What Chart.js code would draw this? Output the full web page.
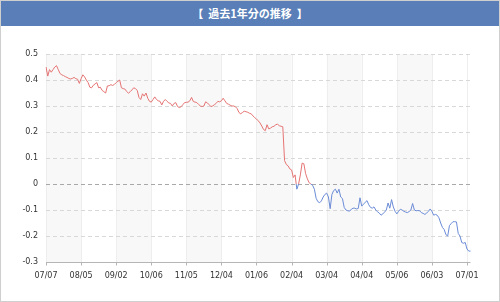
<!DOCTYPE html>
<html><head><meta charset="utf-8">
<script src="https://cdn.jsdelivr.net/npm/chart.js@4.4.1/dist/chart.umd.min.js"></script>
<style>
html,body{margin:0;padding:0;background:#fff;}
#wrap{position:relative;width:500px;height:302px;box-sizing:border-box;border:1px solid #cfcfcf;overflow:hidden;}
#title{position:absolute;left:0;top:0;width:498px;height:25px;background:#5a7fb8;color:#fff;font:bold 11px "Noto Sans CJK JP";text-align:center;line-height:25px;white-space:pre;}
canvas{position:absolute;left:-1px;top:-1px;}
</style></head>
<body><div id="wrap"><div id="title">【  過去1年分の推移  】</div><canvas id="c" width="500" height="302"></canvas></div>
<script>
const tickLabels = ['07/07','08/05','09/02','10/06','11/05','12/04','01/06','02/04','03/04','04/04','05/06','06/03','07/01'];
const yTicks = [0.5,0.4,0.3,0.2,0.1,0,-0.1,-0.2,-0.3];
const values = [
0.45,0.415,0.44,0.43,0.44,0.45,0.455,0.44,0.425,0.42,
0.417,0.413,0.41,0.406,0.404,0.406,0.41,0.405,0.403,0.387,
0.405,0.42,0.412,0.40,0.39,0.372,0.37,0.38,0.385,0.39,
0.37,0.372,0.36,0.355,0.35,0.377,0.378,0.382,0.379,0.383,
0.39,0.395,0.40,0.37,0.367,0.365,0.356,0.349,0.355,0.362,
0.37,0.367,0.36,0.333,0.325,0.347,0.338,0.35,0.33,0.318,
0.315,0.325,0.335,0.325,0.32,0.318,0.304,0.318,0.325,0.318,
0.312,0.31,0.30,0.31,0.313,0.298,0.294,0.297,0.305,0.313,
0.314,0.315,0.32,0.333,0.317,0.315,0.313,0.306,0.30,0.298,
0.30,0.316,0.312,0.305,0.298,0.30,0.305,0.31,0.318,0.316,
0.32,0.33,0.32,0.31,0.307,0.303,0.30,0.30,0.297,0.29,
0.275,0.27,0.275,0.28,0.278,0.276,0.272,0.27,0.262,0.255,
0.25,0.243,0.235,0.223,0.21,0.205,0.228,0.212,0.215,0.22,
0.222,0.228,0.23,0.224,0.222,0.22,0.09,0.075,0.07,0.058,
0.054,0.025,0.035,-0.02,0.0,0.035,0.08,0.078,0.04,0.02,
0.005,0.0,-0.005,-0.02,-0.055,-0.068,-0.072,-0.065,-0.05,-0.04,
-0.035,-0.05,-0.095,-0.04,-0.025,-0.02,-0.035,-0.02,-0.05,-0.056,
-0.09,-0.1,-0.103,-0.104,-0.098,-0.093,-0.093,-0.096,-0.094,-0.053,
-0.085,-0.078,-0.07,-0.064,-0.08,-0.09,-0.093,-0.088,-0.1,-0.107,
-0.112,-0.12,-0.115,-0.108,-0.1,-0.073,-0.093,-0.06,-0.088,-0.105,
-0.115,-0.105,-0.097,-0.1,-0.105,-0.108,-0.11,-0.106,-0.1,-0.075,
-0.1,-0.103,-0.102,-0.103,-0.11,-0.113,-0.117,-0.112,-0.105,-0.096,
-0.105,-0.12,-0.117,-0.12,-0.13,-0.15,-0.167,-0.175,-0.195,-0.2,
-0.16,-0.152,-0.145,-0.145,-0.146,-0.19,-0.2,-0.225,-0.228,-0.225,
-0.25,-0.258,-0.258
];
const categories = values.map((_, i) => String(i));
const RED = '#e57373', BLUE = '#6a8bd6';
const FONT = {family:'DejaVu Sans', size:8};

const bg = {
  id:'bg',
  beforeDatasetsDraw(chart){
    const {ctx, chartArea:a, scales:{x, y}} = chart;
    ctx.save();
    ctx.fillStyle = '#f8f8f8';
    for (let k = 0; k < tickLabels.length - 1; k += 2) {
      const x0 = x.getPixelForValue(k*20), x1 = x.getPixelForValue(k*20+20);
      ctx.fillRect(x0, a.top, x1 - x0, a.bottom - a.top);
    }
    ctx.lineWidth = 1;
    ctx.strokeStyle = '#eeeeee';
    tickLabels.forEach((_, k) => {
      const px = Math.round(x.getPixelForValue(k*20)) + 0.5;
      ctx.beginPath(); ctx.moveTo(px, a.top); ctx.lineTo(px, a.bottom); ctx.stroke();
    });
    ctx.setLineDash([4,3]);
    yTicks.forEach(v => {
      if (v === yTicks[yTicks.length-1]) return;
      const py = Math.round(y.getPixelForValue(v)) + 0.5;
      ctx.strokeStyle = v === 0 ? '#a8a8a8' : '#d8d8d8';
      ctx.beginPath(); ctx.moveTo(a.left, py); ctx.lineTo(a.right, py); ctx.stroke();
    });
    ctx.setLineDash([]);
    const pb = Math.round(y.getPixelForValue(yTicks[yTicks.length-1])) + 0.5;
    ctx.strokeStyle = '#b5b5b5';
    ctx.beginPath(); ctx.moveTo(a.left, pb); ctx.lineTo(a.right, pb); ctx.stroke();
    tickLabels.forEach((_, k) => {
      const px = Math.round(x.getPixelForValue(k*20)) + 0.5;
      ctx.beginPath(); ctx.moveTo(px, pb); ctx.lineTo(px, pb + 3); ctx.stroke();
    });
    ctx.restore();
  }
};

new Chart(document.getElementById('c'), {
  type:'line',
  data:{
    labels: categories,
    datasets:[{
      data: values,
      borderWidth: 1,
      pointRadius: 0,
      tension: 0,
      fill: false,
      borderColor: (ctx) => {
        const chart = ctx.chart, a = chart.chartArea;
        if (!a) return RED;
        const y0 = chart.scales.y.getPixelForValue(0);
        const f = Math.min(1, Math.max(0, (y0 - a.top) / (a.bottom - a.top)));
        const g = chart.ctx.createLinearGradient(0, a.top, 0, a.bottom);
        g.addColorStop(0, RED); g.addColorStop(f, RED);
        g.addColorStop(f, BLUE); g.addColorStop(1, BLUE);
        return g;
      }
    }]
  },
  options:{
    responsive:false, animation:false,
    layout:{padding:{top:54, left:6, right:29.5, bottom:18}},
    plugins:{legend:{display:false}, tooltip:{enabled:false}},
    scales:{
      x:{
        grid:{display:false, drawTicks:false}, border:{display:false},
        ticks:{autoSkip:false, maxRotation:0, minRotation:0, padding:9, color:'#333', font:FONT,
          callback:(v, i) => i % 20 === 0 ? tickLabels[i/20] : ''},
        afterFit: s => { s.height = 22; }
      },
      y:{
        min: yTicks[yTicks.length-1], max: yTicks[0],
        grid:{display:false, drawTicks:false}, border:{display:false},
        ticks:{stepSize:0.1, padding:8, color:'#333', font:FONT,
          callback: v => Math.abs(v) < 1e-9 ? '0' : (Math.round(v*10)/10).toString()},
        afterFit: s => { s.width = 40; }
      }
    }
  },
  plugins:[bg]
});
</script>
</body></html>
